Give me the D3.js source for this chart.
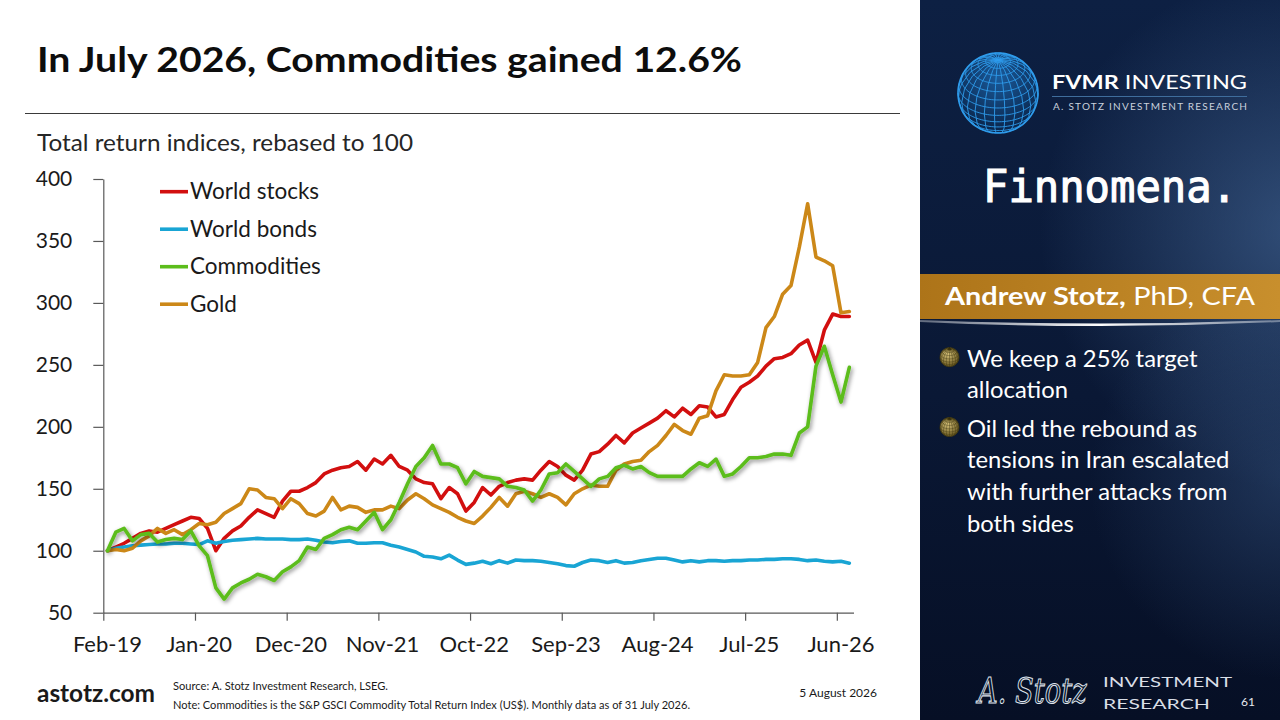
<!DOCTYPE html>
<html>
<head>
<meta charset="utf-8">
<script src="https://cdn.jsdelivr.net/npm/d3@7"></script>
<style>
	html, body { margin: 0; padding: 0; background: #fff; }
	svg { display: block; font-family: Lato, "Open Sans", sans-serif; }
</style>
</head>
<body>
<svg id="slide" width="1280" height="720"></svg>
<script>
// monthly points, Feb-19 .. Jul-26
var months = d3.timeMonths(new Date(2019, 1, 1), new Date(2026, 7, 1));
var tickLabels = ['Feb-19', 'Jan-20', 'Dec-20', 'Nov-21', 'Oct-22', 'Sep-23', 'Aug-24', 'Jul-25', 'Jun-26'];
var yTicks = [50, 100, 150, 200, 250, 300, 350, 400];

var worldStocks = [
	100, 103, 106, 110, 114, 116, 115, 118, 121, 124,
	127, 126, 118, 100, 110, 116, 120, 127, 133, 130,
	127, 140, 148, 148, 151, 155, 162, 165, 167, 168,
	172, 165, 174, 170, 177, 168, 165, 158, 155, 154,
	142, 151, 146, 132, 139, 151, 145, 152, 155, 157,
	158, 157, 165, 172, 168, 161, 157, 165, 178, 180,
	186, 193, 187, 195, 199, 203, 207, 213, 208, 215,
	210, 217, 216, 208, 210, 222, 232, 236, 241, 249,
	255, 256, 259, 266, 270, 252, 278, 291, 289, 289
];
var worldBonds = [
	100, 102, 103, 104, 104.5, 105, 105.5, 105.5, 106, 106,
	105.5, 105, 108, 106, 107.5, 108.5, 109, 109.5, 110, 109.5,
	109.5, 109.5, 109, 109, 109.5, 108.5, 107, 106.5, 107.5, 108,
	106, 106, 106.5, 106.5, 104.5, 103, 101, 99, 95.5, 95,
	93.5, 96.5, 92.5, 89, 90, 91.5, 89.5, 92, 90, 92.5,
	92, 92, 91.5, 90.5, 89.5, 88, 87.5, 90.5, 92.5, 92,
	90.5, 92, 90, 90.5, 92, 93, 94, 94, 92.5, 91,
	92, 91, 92, 92, 91.5, 92, 92, 92.5, 92.5, 93,
	93, 93.5, 93.5, 93, 92, 92.5, 91.5, 91, 91.5, 90
];
var commodities = [
	100, 115, 118, 108, 113, 114, 107, 109, 110, 109,
	116, 104, 96, 70, 61, 70, 74, 77, 81, 79,
	76, 83, 87, 92, 103, 101, 110, 113, 117, 119,
	117, 124, 131, 117, 125, 139, 154, 168, 175, 185,
	170, 170, 167, 154, 164, 160, 159, 158, 152, 151,
	149, 140, 149, 162, 163, 170, 164, 158, 152, 158,
	160, 167, 169, 166, 168, 163, 160, 160, 160, 160,
	166, 171, 168, 174, 160, 162, 168, 175, 175, 176,
	178, 178, 177, 195, 200, 249, 265, 242, 220, 248
];
var gold = [
	100, 101, 100, 102, 108, 112, 118, 114, 117, 113,
	117, 122, 121, 123, 130, 134, 138, 150, 149, 143,
	142, 134, 142, 138, 130, 128, 132, 143, 133, 136,
	135, 131, 133, 133, 136, 134, 141, 146, 142, 137,
	134, 131, 127, 124, 122, 128, 135, 143, 136, 146,
	148, 146, 143, 146, 143, 137, 146, 150, 153, 152,
	152, 165, 170, 172, 173, 180, 185, 193, 202, 197,
	194, 207, 209, 229, 242, 241, 241, 242, 252, 280,
	289, 307, 314, 345, 380, 337, 334, 330, 292, 293
];

var series = [
	{name: 'World stocks', values: worldStocks, color: '#d20f0f', order: 0},
	{name: 'World bonds', values: worldBonds, color: '#19a5d4', order: 1},
	{name: 'Commodities', values: commodities, color: '#5cbd1c', order: 3, shadow: true},
	{name: 'Gold', values: gold, color: '#cc8818', order: 2}
];

var bullets = [
	['We keep a 25% target', 'allocation'],
	['Oil led the rebound as', 'tensions in Iran escalated', 'with further attacks from', 'both sides']
];

var svg = d3.select('#slide');
var defs = svg.append('defs');

var shadow = defs.append('filter').attr('id', 'lineShadow')
	.attr('x', '-5%').attr('y', '-5%').attr('width', '110%').attr('height', '110%');
shadow.append('feDropShadow')
	.attr('dx', 1.5).attr('dy', 2)
	.attr('stdDeviation', 2.2)
	.attr('flood-color', '#000')
	.attr('flood-opacity', 0.45);

////////////////////////////////////////////////////////////////////////////////
// left side
//
svg.append('rect').attr('width', 920).attr('height', 720).attr('fill', '#fff');

svg.append('text')
	.attr('x', 37).attr('y', 72)
	.attr('font-size', 35).attr('font-weight', 'bold')
	.attr('fill', '#0d0d0d')
	.attr('textLength', 705).attr('lengthAdjust', 'spacingAndGlyphs')
	.text('In July 2026, Commodities gained 12.6%');

svg.append('line')
	.attr('x1', 25).attr('x2', 900)
	.attr('y1', 113.5).attr('y2', 113.5)
	.attr('stroke', '#3a3a3a').attr('stroke-width', 1);

svg.append('text')
	.attr('x', 37).attr('y', 151)
	.attr('font-size', 22.5).attr('fill', '#262626')
	.attr('textLength', 376).attr('lengthAdjust', 'spacingAndGlyphs')
	.text('Total return indices, rebased to 100');

var x = d3.scaleLinear().domain([-0.5, months.length - 0.5]).range([103.3, 853.5]);
var y = d3.scaleLinear().domain([50, 400]).range([612.7, 179]);

var chart = svg.append('g');

var yAxis = chart.append('g')
	.attr('transform', 'translate(' + x(-0.5) + ',0)')
	.call(d3.axisLeft(y).tickValues(yTicks).tickSize(10).tickSizeOuter(0).tickPadding(21));

var xAxis = chart.append('g')
	.attr('transform', 'translate(0,' + y(50) + ')')
	.call(d3.axisBottom(x).tickValues(d3.range(-0.5, months.length, 11)).tickSize(8).tickSizeOuter(0).tickFormat(''));

chart.selectAll('.domain, .tick line').attr('stroke', '#595959').attr('stroke-width', 1.2);
yAxis.selectAll('text')
	.attr('font-size', 21).attr('fill', '#1a1a1a')
	.attr('font-family', 'Lato, sans-serif');

chart.selectAll('.x-label')
	.data(tickLabels)
	.enter().append('text')
		.attr('class', 'x-label')
		.attr('x', function(d, i) { return x(i * 11); })
		.attr('y', 652)
		.attr('text-anchor', 'middle')
		.attr('font-size', 22).attr('fill', '#1a1a1a')
		.text(function(d) { return d; });

var line = d3.line()
	.x(function(d, i) { return x(i); })
	.y(function(d) { return y(d); });

var drawOrder = series.slice().sort(function(a, b) { return a.order - b.order; });
chart.selectAll('.series')
	.data(drawOrder)
	.enter().append('path')
		.attr('class', 'series')
		.attr('d', function(d) { return line(d.values); })
		.attr('fill', 'none')
		.attr('stroke', function(d) { return d.color; })
		.attr('stroke-width', 3.6)
		.attr('stroke-linejoin', 'round')
		.attr('stroke-linecap', 'round')
		.attr('filter', function(d) { return d.shadow ? 'url(#lineShadow)' : null; });

// legend
var legend = chart.selectAll('.legend')
	.data(series)
	.enter().append('g')
		.attr('class', 'legend')
		.attr('transform', function(d, i) { return 'translate(160,' + (191.7 + i * 37.5) + ')'; });
legend.append('line')
	.attr('x1', 0).attr('x2', 28)
	.attr('stroke', function(d) { return d.color; })
	.attr('stroke-width', 3.6);
legend.append('text')
	.attr('x', 30).attr('y', 7.5)
	.attr('font-size', 22.5).attr('fill', '#1a1a1a')
	.text(function(d) { return d.name; });

// footer
svg.append('text')
	.attr('x', 37).attr('y', 702)
	.attr('font-size', 24).attr('font-weight', 'bold').attr('fill', '#1a1a1a')
	.attr('textLength', 118).attr('lengthAdjust', 'spacingAndGlyphs')
	.text('astotz.com');
svg.append('text')
	.attr('x', 173).attr('y', 690)
	.attr('font-size', 10.5).attr('fill', '#1a1a1a')
	.attr('textLength', 215).attr('lengthAdjust', 'spacingAndGlyphs')
	.text('Source: A. Stotz Investment Research, LSEG.');
svg.append('text')
	.attr('x', 173).attr('y', 709)
	.attr('font-size', 10.5).attr('fill', '#1a1a1a')
	.attr('textLength', 517).attr('lengthAdjust', 'spacingAndGlyphs')
	.text('Note: Commodities is the S&P GSCI Commodity Total Return Index (US$). Monthly data as of 31 July 2026.');
svg.append('text')
	.attr('x', 877).attr('y', 697)
	.attr('text-anchor', 'end')
	.attr('font-size', 12).attr('fill', '#1a1a1a')
	.text('5 August 2026');

////////////////////////////////////////////////////////////////////////////////
// right panel
//
var panelGrad = defs.append('linearGradient').attr('id', 'panelGrad')
	.attr('x1', 0).attr('y1', 0).attr('x2', 0).attr('y2', 1);
panelGrad.append('stop').attr('offset', '0%').attr('stop-color', '#0d2043');
panelGrad.append('stop').attr('offset', '55%').attr('stop-color', '#0a1835');
panelGrad.append('stop').attr('offset', '100%').attr('stop-color', '#060f25');

var glow = defs.append('radialGradient').attr('id', 'panelGlow')
	.attr('gradientUnits', 'userSpaceOnUse')
	.attr('cx', 1300).attr('cy', 230).attr('r', 260);
glow.append('stop').attr('offset', '0%').attr('stop-color', '#4a6fa0').attr('stop-opacity', 0.6);
glow.append('stop').attr('offset', '100%').attr('stop-color', '#4a6fa0').attr('stop-opacity', 0);

var glow2 = defs.append('radialGradient').attr('id', 'panelGlow2')
	.attr('gradientUnits', 'userSpaceOnUse')
	.attr('cx', 1290).attr('cy', 480).attr('r', 200);
glow2.append('stop').attr('offset', '0%').attr('stop-color', '#3a5a88').attr('stop-opacity', 0.45);
glow2.append('stop').attr('offset', '100%').attr('stop-color', '#3a5a88').attr('stop-opacity', 0);

var panel = svg.append('g');
panel.append('rect').attr('x', 920).attr('width', 360).attr('height', 720).attr('fill', 'url(#panelGrad)');
panel.append('rect').attr('x', 920).attr('width', 360).attr('height', 720).attr('fill', 'url(#panelGlow)');
panel.append('rect').attr('x', 920).attr('width', 360).attr('height', 720).attr('fill', 'url(#panelGlow2)');

// globe logo
var globeFill = defs.append('radialGradient').attr('id', 'globeFill')
	.attr('cx', '50%').attr('cy', '30%').attr('r', '70%');
globeFill.append('stop').attr('offset', '0%').attr('stop-color', '#1a5a9a');
globeFill.append('stop').attr('offset', '100%').attr('stop-color', '#0a2347');

var globeProj = d3.geoOrthographic().scale(40).translate([998, 93]).rotate([10, -34]).clipAngle(90);
var globePath = d3.geoPath(globeProj);
panel.append('path').datum({type: 'Sphere'})
	.attr('d', globePath)
	.attr('fill', 'url(#globeFill)')
	.attr('stroke', '#2f9cec').attr('stroke-width', 1.6);
panel.append('path').datum(d3.geoGraticule().step([15, 12])())
	.attr('d', globePath)
	.attr('fill', 'none')
	.attr('stroke', '#2f9cec').attr('stroke-width', 0.9);

panel.append('text')
	.attr('x', 1052).attr('y', 88.5)
	.attr('font-size', 19).attr('fill', '#fff')
	.attr('textLength', 195).attr('lengthAdjust', 'spacingAndGlyphs')
	.html('<tspan font-weight="bold">FVMR</tspan> INVESTING');
panel.append('line')
	.attr('x1', 1052).attr('x2', 1247)
	.attr('y1', 96.5).attr('y2', 96.5)
	.attr('stroke', '#3f6d9c').attr('stroke-width', 1);
panel.append('text')
	.attr('x', 1053).attr('y', 110)
	.attr('font-size', 10).attr('fill', '#c9d1dd')
	.attr('textLength', 194).attr('lengthAdjust', 'spacing')
	.text('A. STOTZ INVESTMENT RESEARCH');

panel.append('text')
	.attr('x', 983).attr('y', 201.5)
	.attr('font-size', 44).attr('fill', '#fff')
	.attr('stroke', '#fff').attr('stroke-width', 1.1)
	.attr('font-family', '"DejaVu Sans Mono", monospace')
	.attr('textLength', 254).attr('lengthAdjust', 'spacingAndGlyphs')
	.text('Finnomena.');

// name banner
var bannerGrad = defs.append('linearGradient').attr('id', 'bannerGrad')
	.attr('x1', 0).attr('y1', 0).attr('x2', 1).attr('y2', 0);
bannerGrad.append('stop').attr('offset', '0%').attr('stop-color', '#ad7419');
bannerGrad.append('stop').attr('offset', '100%').attr('stop-color', '#c88f2d');
panel.append('rect')
	.attr('x', 920).attr('y', 274).attr('width', 360).attr('height', 45)
	.attr('fill', 'url(#bannerGrad)');

var shineGrad = defs.append('linearGradient').attr('id', 'shineGrad')
	.attr('x1', 0).attr('y1', 0).attr('x2', 1).attr('y2', 0);
shineGrad.append('stop').attr('offset', '0%').attr('stop-color', '#fff').attr('stop-opacity', 0.35);
shineGrad.append('stop').attr('offset', '50%').attr('stop-color', '#fff').attr('stop-opacity', 1);
shineGrad.append('stop').attr('offset', '100%').attr('stop-color', '#fff').attr('stop-opacity', 0.35);
panel.append('path')
	.attr('d', 'M920,320 Q1100,327 1280,320 L1280,322 Q1100,330 920,322 Z')
	.attr('fill', 'url(#shineGrad)');

panel.append('text')
	.attr('x', 945).attr('y', 305)
	.attr('font-size', 25.5).attr('fill', '#fff')
	.attr('textLength', 310).attr('lengthAdjust', 'spacingAndGlyphs')
	.html('<tspan font-weight="bold">Andrew Stotz,</tspan> PhD, CFA');

// bullets with small gold globes
var bulletFill = defs.append('radialGradient').attr('id', 'bulletFill')
	.attr('cx', '40%').attr('cy', '35%').attr('r', '65%');
bulletFill.append('stop').attr('offset', '0%').attr('stop-color', '#d6c27a');
bulletFill.append('stop').attr('offset', '100%').attr('stop-color', '#6d5c23');

var lineY = 366.7;
bullets.forEach(function(lines, b)
{
	var cy = lineY - 9.5;
	var proj = d3.geoOrthographic().scale(9.5).translate([949.5, cy]).rotate([0, -30]).clipAngle(90);
	var p = d3.geoPath(proj);
	panel.append('path').datum({type: 'Sphere'})
		.attr('d', p).attr('fill', 'url(#bulletFill)')
		.attr('stroke', '#4a3f16').attr('stroke-width', 0.6);
	panel.append('path').datum(d3.geoGraticule().step([20, 20])())
		.attr('d', p).attr('fill', 'none')
		.attr('stroke', '#3d3412').attr('stroke-width', 0.5).attr('stroke-opacity', 0.8);

	lines.forEach(function(t)
	{
		panel.append('text')
			.attr('x', 967).attr('y', lineY)
			.attr('font-size', 23.8).attr('fill', '#fff')
			.text(t);
		lineY += 31.7;
	});
	lineY += 6.5;
});

// signature block (stretched vertically instead of squeezed, so its box stays small)
panel.append('text')
	.attr('transform', 'translate(978,703) scale(1.05,1.35)')
	.attr('font-size', 26).attr('font-style', 'italic')
	.attr('font-family', '"DejaVu Serif", serif')
	.attr('fill', 'none').attr('stroke', '#dfe4ec').attr('stroke-width', 0.8)
	.text('A. Stotz');
panel.append('text')
	.attr('x', 1103).attr('y', 686.5)
	.attr('font-size', 13.5).attr('fill', '#d9dee6')
	.attr('textLength', 129).attr('lengthAdjust', 'spacingAndGlyphs')
	.text('INVESTMENT');
panel.append('text')
	.attr('x', 1103).attr('y', 708.5)
	.attr('font-size', 13.5).attr('fill', '#d9dee6')
	.attr('textLength', 107).attr('lengthAdjust', 'spacingAndGlyphs')
	.text('RESEARCH');
panel.append('text')
	.attr('x', 1255).attr('y', 705.5)
	.attr('text-anchor', 'end')
	.attr('font-size', 12).attr('fill', '#e6e9ee')
	.text('61');
</script>
</body>
</html>
